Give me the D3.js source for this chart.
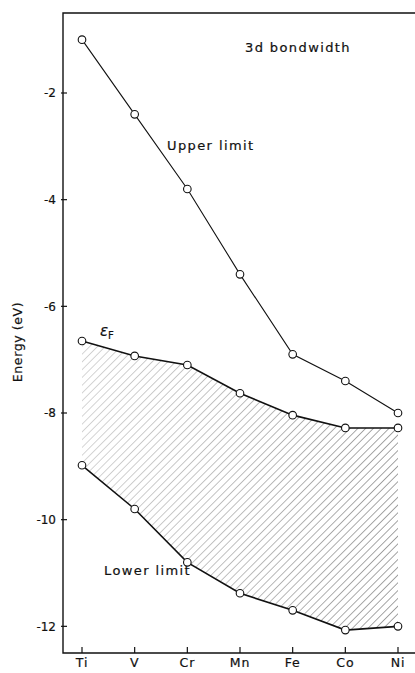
<!DOCTYPE html>
<html>
<head>
<meta charset="utf-8">
<script src="https://cdn.jsdelivr.net/npm/d3@7"></script>
<style>
  body { margin: 0; background: #fff; }
  text { font-family: "DejaVu Sans", sans-serif; fill: #111; stroke: #111; stroke-width: 0.2; }
</style>
</head>
<body>
<div id="graph"></div>
<script>
// 3d band limits for the transition metals (eV)
var metals = ['Ti', 'V', 'Cr', 'Mn', 'Fe', 'Co', 'Ni']
var upperLimit = [-1.0, -2.4, -3.8, -5.4, -6.9, -7.4, -8.0]
var fermiLevel = [-6.65, -6.93, -7.1, -7.63, -8.04, -8.28, -8.28]
var lowerLimit = [-8.98, -9.8, -10.8, -11.38, -11.7, -12.07, -12.0]
var yTicks = [-2, -4, -6, -8, -10, -12]

var width = 415, height = 673

var svg = d3.select('#graph').append('svg')
  .attr('width', width).attr('height', height)

var x = d3.scalePoint().domain(metals).range([82, 398])
var y = d3.scaleLinear().domain([-0.5, -12.5]).range([13, 653])

// plot box edges (window.top is reserved, so use other names)
var x0 = 63, y0 = 13, y1 = 653, x1 = 416

// hatch pattern for the occupied band
var defs = svg.append('defs')
var pat = defs.append('pattern')
  .attr('id', 'hatch')
  .attr('patternUnits', 'userSpaceOnUse')
  .attr('width', 5.5).attr('height', 5.5)
  .attr('patternTransform', 'rotate(45)')
pat.append('line')
  .attr('x1', 0).attr('y1', 0).attr('x2', 0).attr('y2', 5.5)
  .attr('stroke', '#333').attr('stroke-width', 0.9)

var grad = defs.append('linearGradient').attr('id', 'fade')
  .attr('gradientUnits', 'userSpaceOnUse')
  .attr('x1', 82).attr('x2', 398).attr('y1', 0).attr('y2', 0)
grad.append('stop').attr('offset', 0).attr('stop-color', '#fff').attr('stop-opacity', 0.45)
grad.append('stop').attr('offset', 0.5).attr('stop-color', '#fff').attr('stop-opacity', 0.7)
grad.append('stop').attr('offset', 1).attr('stop-color', '#fff').attr('stop-opacity', 1)
defs.append('mask').attr('id', 'fadeMask')
  .append('rect').attr('x', 0).attr('y', 0).attr('width', width).attr('height', height)
  .attr('fill', 'url(#fade)')

var band = metals.map((m, i) => ({m, hi: fermiLevel[i], lo: lowerLimit[i]}))
var area = d3.area()
  .x(d => x(d.m))
  .y0(d => y(d.lo))
  .y1(d => y(d.hi))

svg.append('path')
  .datum(band)
  .attr('d', area)
  .attr('fill', 'url(#hatch)')
  .attr('mask', 'url(#fadeMask)')

// frame
svg.append('path')
  .attr('d', `M${x1},${y0}H${x0}V${y1}H${x1}`)
  .attr('fill', 'none')
  .attr('stroke', '#111').attr('stroke-width', 1.4)

// y axis ticks + labels
svg.append('g').selectAll('g')
  .data(yTicks).join('g')
  .attr('transform', d => `translate(0,${y(d)})`)
  .call(g => g.append('line')
    .attr('x1', x0 - 2).attr('x2', x0 + 4)
    .attr('stroke', '#111').attr('stroke-width', 1.2))
  .call(g => g.append('text')
    .attr('x', x0 - 7).attr('dy', '0.35em')
    .attr('text-anchor', 'end')
    .attr('font-size', 12)
    .text(d => '-' + Math.abs(d)))

// x axis ticks + labels
svg.append('g').selectAll('g')
  .data(metals).join('g')
  .attr('transform', d => `translate(${x(d)},0)`)
  .call(g => g.append('line')
    .attr('y1', y1).attr('y2', y1 - 6)
    .attr('stroke', '#111').attr('stroke-width', 1.2))
  .call(g => g.append('text')
    .attr('y', y1 + 14).attr('text-anchor', 'middle')
    .attr('font-size', 12.5)
    .attr('letter-spacing', 0.8)
    .text(d => d))

svg.append('text')
  .attr('transform', `translate(22,342) rotate(-90)`)
  .attr('text-anchor', 'middle')
  .attr('font-size', 12.5)
  .attr('letter-spacing', 0.6)
  .text('Energy (eV)')

// curves
var line = d3.line().x(d => x(d.m)).y(d => y(d.v))
var series = [upperLimit, fermiLevel, lowerLimit].map(vals =>
  metals.map((m, i) => ({m, v: vals[i]})))

svg.append('g').selectAll('path')
  .data(series).join('path')
  .attr('d', line)
  .attr('fill', 'none')
  .attr('stroke', '#111')
  .attr('stroke-width', (d, i) => i == 0 ? 1.1 : 1.6)

svg.append('g').selectAll('circle')
  .data(series.flat()).join('circle')
  .attr('cx', d => x(d.m)).attr('cy', d => y(d.v))
  .attr('r', 3.8)
  .attr('fill', '#fff')
  .attr('stroke', '#111')
  .attr('stroke-width', 1.1)

// labels
svg.append('text').attr('x', 245).attr('y', 52)
  .attr('font-size', 13).attr('letter-spacing', 1.4)
  .text('3d bondwidth')
svg.append('text').attr('x', 167).attr('y', 150)
  .attr('font-size', 13).attr('letter-spacing', 1.4)
  .text('Upper limit')
svg.append('text').attr('x', 104).attr('y', 575)
  .attr('font-size', 13).attr('letter-spacing', 1.4)
  .text('Lower limit')

var ef = svg.append('text').attr('x', 100).attr('y', 336)
  .attr('font-size', 15).attr('font-style', 'italic')
ef.append('tspan').text('\u03b5')
ef.append('tspan').attr('font-size', 10).attr('dy', 3).attr('font-style', 'normal').text('F')
</script>
</body>
</html>
